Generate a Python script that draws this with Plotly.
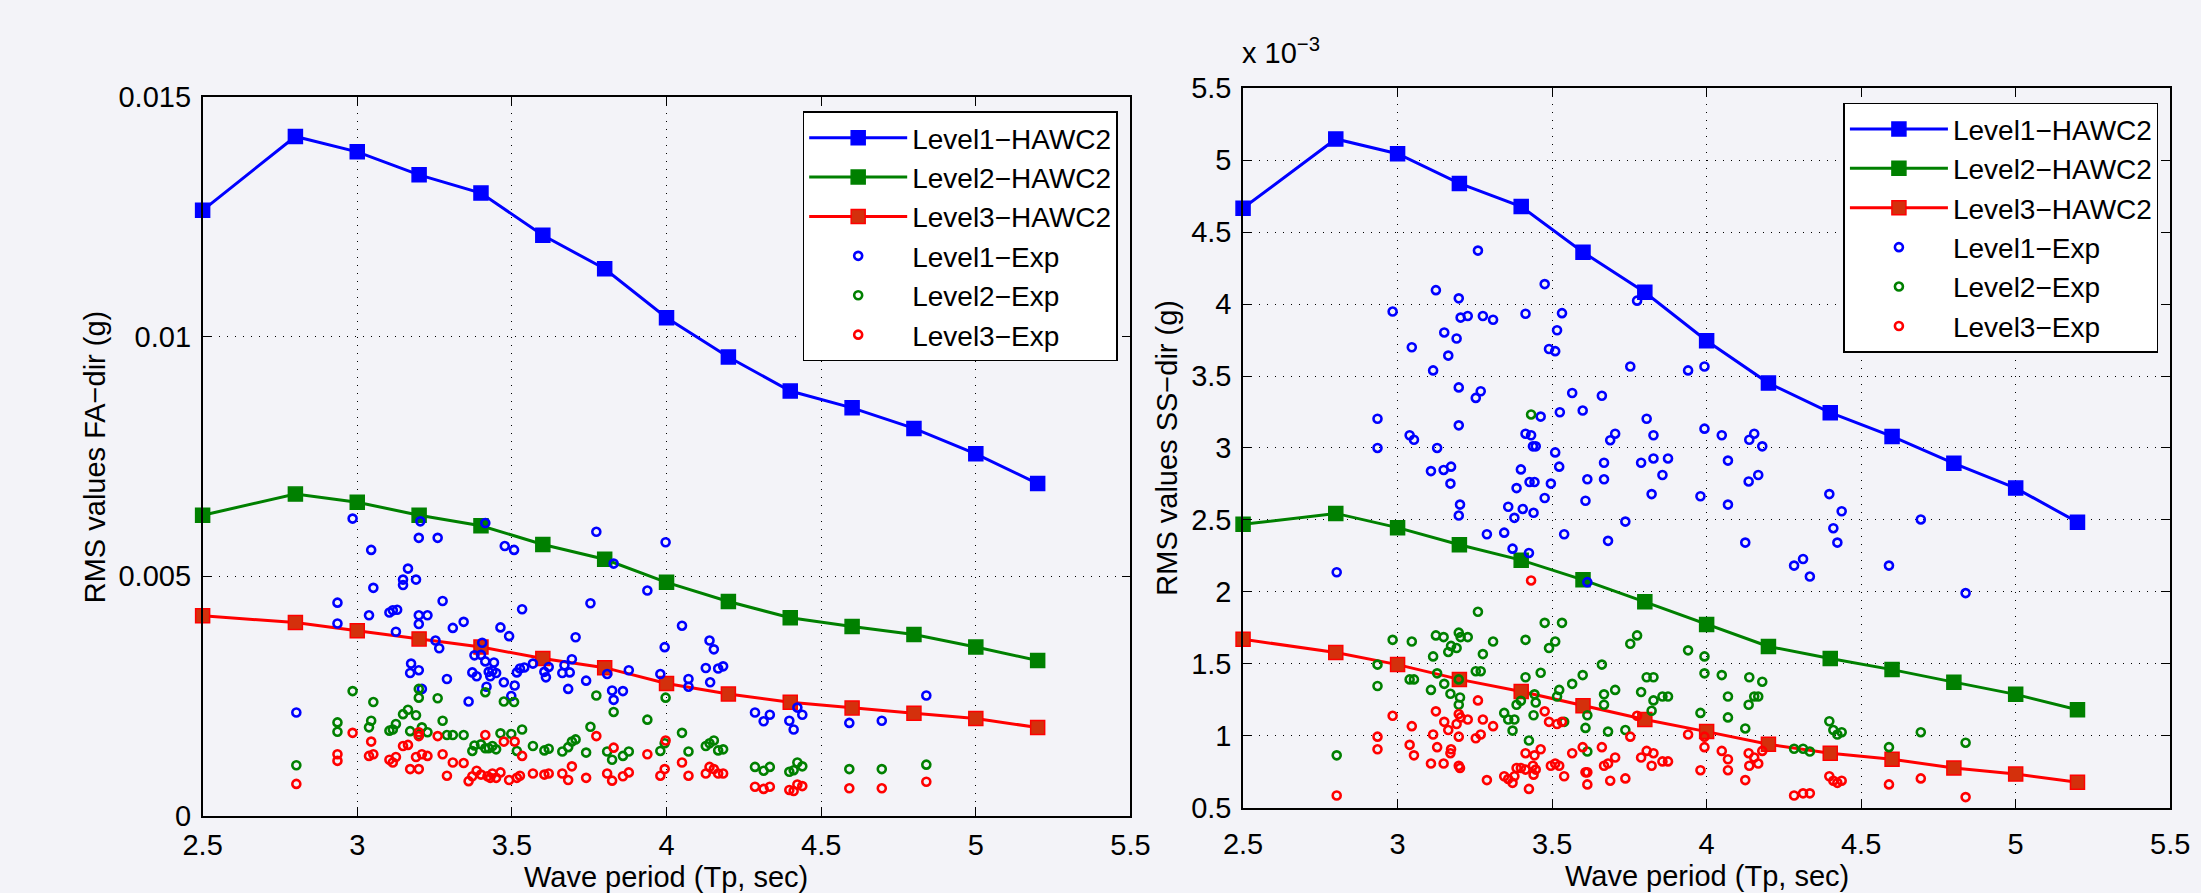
import plotly.graph_objects as go

# ---------------- data ----------------
T_hawc = [2.5, 2.8, 3.0, 3.2, 3.4, 3.6, 3.8, 4.0, 4.2, 4.4, 4.6, 4.8, 5.0, 5.2]

# FA direction (g)
fa_l1_hawc = [0.01263, 0.01417, 0.01385, 0.01337, 0.01299, 0.01211, 0.01141, 0.01039,
              0.00957, 0.00886, 0.00851, 0.00808, 0.00755, 0.00693]
fa_l2_hawc = [0.00627, 0.00671, 0.00654, 0.00627, 0.00605, 0.00566, 0.00535, 0.00487,
              0.00447, 0.00413, 0.00395, 0.00378, 0.00352, 0.00324]
fa_l3_hawc = [0.00417, 0.00403, 0.00386, 0.00369, 0.00352, 0.00328, 0.00309, 0.00276,
              0.00254, 0.00237, 0.00225, 0.00214, 0.00203, 0.00184]

# SS direction (x 10^-3 g)
ss_l1_hawc = [4.667, 5.148, 5.045, 4.839, 4.678, 4.361, 4.082, 3.745,
              3.451, 3.245, 3.080, 2.893, 2.721, 2.484]
ss_l2_hawc = [2.469, 2.545, 2.446, 2.327, 2.220, 2.083, 1.930, 1.773,
              1.620, 1.536, 1.459, 1.372, 1.287, 1.180]
ss_l3_hawc = [1.670, 1.578, 1.494, 1.391, 1.307, 1.207, 1.112, 1.028,
              0.940, 0.878, 0.836, 0.775, 0.733, 0.676]

# Experimental FA (Tp, x 10^-3 g)
fa_l1_exp_t = [2.803, 2.936, 2.936, 2.985, 3.038, 3.045, 3.052, 3.104, 3.115, 3.125, 3.129, 3.148, 3.148,
               3.164, 3.171, 3.174, 3.190, 3.199, 3.199, 3.199, 3.199, 3.204, 3.209, 3.227, 3.253, 3.260,
               3.265, 3.276, 3.290, 3.309, 3.344, 3.360, 3.372, 3.379, 3.386, 3.400, 3.404, 3.414, 3.414,
               3.418, 3.425, 3.430, 3.437, 3.442, 3.449, 3.463, 3.474, 3.477, 3.491, 3.498, 3.507, 3.509,
               3.516, 3.526, 3.533, 3.540, 3.568, 3.605, 3.610, 3.619, 3.663, 3.670, 3.682, 3.687, 3.694,
               3.706, 3.740, 3.754, 3.773, 3.808, 3.824, 3.829, 3.829, 3.859, 3.878, 3.938, 3.980, 3.994,
               3.997, 4.050, 4.071, 4.071, 4.127, 4.139, 4.141, 4.153, 4.167, 4.183, 4.286, 4.314, 4.334,
               4.397, 4.411, 4.423, 4.439, 4.591, 4.696, 4.840]
fa_l1_exp = [2.154, 4.446, 4.011, 6.199, 4.182, 5.546, 4.755, 4.240, 4.286, 3.839, 4.297, 4.813, 4.927,
             5.156, 2.979, 3.174, 4.927, 5.798, 4.182, 3.999, 3.037, 6.142, 2.647, 4.182, 3.655, 5.798,
             3.495, 4.480, 2.853, 3.919, 4.045, 2.383, 2.991, 3.346, 2.911, 3.357, 3.609, 3.220, 6.107,
             2.693, 3.002, 2.911, 3.025, 3.197, 2.979, 3.930, 2.784, 5.626, 3.747, 2.498, 5.546, 2.716,
             2.991, 3.071, 4.308, 3.094, 3.174, 3.002, 2.888, 3.105, 2.979, 3.140, 2.647, 2.991, 3.266,
             3.724, 2.819, 4.434, 5.924, 2.956, 2.613, 5.260, 2.418, 2.601, 3.037, 4.698, 2.956, 3.518,
             5.706, 3.965, 2.853, 2.693, 3.082, 3.655, 2.784, 3.472, 3.071, 3.117, 2.154, 1.971, 2.108,
             1.982, 1.799, 2.257, 2.108, 1.937, 1.982, 2.509]

fa_l2_exp_t = [2.803, 2.936, 2.936, 2.985, 3.038, 3.052, 3.045, 3.104, 3.115, 3.125, 3.148, 3.164, 3.171,
               3.190, 3.199, 3.199, 3.199, 3.209, 3.227, 3.260, 3.276, 3.290, 3.309, 3.344, 3.372, 3.379,
               3.400, 3.414, 3.414, 3.425, 3.437, 3.449, 3.463, 3.474, 3.498, 3.507, 3.516, 3.533, 3.568,
               3.605, 3.619, 3.663, 3.682, 3.694, 3.706, 3.740, 3.754, 3.773, 3.808, 3.824, 3.829, 3.859,
               3.878, 3.938, 3.980, 3.994, 3.997, 4.050, 4.071, 4.127, 4.139, 4.153, 4.167, 4.183, 4.286,
               4.314, 4.334, 4.397, 4.411, 4.423, 4.439, 4.591, 4.696, 4.840]
fa_l2_exp = [1.054, 1.948, 1.753, 2.601, 1.845, 2.372, 1.982, 1.776, 1.799, 1.914, 2.120, 2.212, 1.765,
             2.097, 2.647, 2.464, 1.684, 1.845, 1.742, 2.452, 1.982, 1.684, 1.684, 1.684, 1.352, 1.467,
             1.490, 1.409, 2.578, 1.409, 1.455, 1.386, 1.719, 2.383, 1.707, 2.372, 1.352, 1.799, 1.455,
             1.364, 1.398, 1.341, 1.432, 1.547, 1.593, 1.318, 1.856, 2.509, 1.341, 1.169, 2.166, 1.249,
             1.341, 2.005, 1.352, 1.513, 2.464, 1.730, 1.341, 1.455, 1.513, 1.570, 1.364, 1.386, 1.020,
             0.940, 1.020, 0.917, 0.951, 1.112, 1.031, 0.974, 0.974, 1.066]

fa_l3_exp_t = [2.803, 2.936, 2.936, 2.985, 3.038, 3.045, 3.052, 3.104, 3.115, 3.125, 3.148, 3.164, 3.171,
               3.190, 3.199, 3.199, 3.199, 3.209, 3.227, 3.260, 3.276, 3.290, 3.309, 3.344, 3.360, 3.372,
               3.386, 3.400, 3.414, 3.421, 3.430, 3.437, 3.449, 3.463, 3.474, 3.491, 3.509, 3.516, 3.526,
               3.533, 3.568, 3.605, 3.619, 3.663, 3.682, 3.694, 3.740, 3.773, 3.808, 3.824, 3.829, 3.859,
               3.878, 3.938, 3.980, 3.994, 3.997, 4.050, 4.071, 4.127, 4.139, 4.153, 4.167, 4.183, 4.286,
               4.314, 4.334, 4.397, 4.411, 4.423, 4.439, 4.591, 4.696, 4.840]
fa_l3_exp = [0.665, 1.283, 1.146, 1.730, 1.249, 1.547, 1.283, 1.169, 1.112, 1.226, 1.455, 1.478, 0.974,
             1.226, 1.742, 1.662, 0.974, 1.283, 1.249, 1.662, 1.283, 0.836, 1.112, 1.100, 0.722, 0.825,
             0.940, 0.859, 1.684, 0.825, 0.791, 0.882, 0.791, 0.905, 1.547, 0.745, 1.547, 0.791, 0.836,
             1.249, 0.882, 0.859, 0.882, 0.882, 0.745, 1.031, 0.791, 1.662, 0.882, 0.733, 1.421, 0.825,
             0.905, 1.283, 0.836, 0.974, 1.570, 1.112, 0.836, 0.882, 1.020, 0.974, 0.882, 0.882, 0.607,
             0.561, 0.607, 0.539, 0.516, 0.653, 0.619, 0.573, 0.573, 0.710]

# Experimental SS (Tp, x 10^-3 g)
ss_l1_exp_t = [2.803, 2.935, 2.935, 2.984, 3.039, 3.053, 3.046, 3.108, 3.115, 3.124, 3.128, 3.149, 3.151,
               3.164, 3.171, 3.173, 3.191, 3.198, 3.198, 3.198, 3.202, 3.198, 3.204, 3.227, 3.253, 3.260,
               3.269, 3.276, 3.289, 3.309, 3.345, 3.358, 3.372, 3.378, 3.385, 3.399, 3.405, 3.414, 3.414,
               3.425, 3.427, 3.432, 3.438, 3.440, 3.443, 3.447, 3.463, 3.476, 3.476, 3.490, 3.496, 3.510,
               3.510, 3.516, 3.523, 3.525, 3.532, 3.539, 3.565, 3.599, 3.608, 3.614, 3.614, 3.661, 3.668,
               3.668, 3.681, 3.688, 3.704, 3.737, 3.753, 3.775, 3.788, 3.806, 3.822, 3.828, 3.828, 3.857,
               3.875, 3.940, 3.980, 3.993, 3.993, 4.049, 4.069, 4.069, 4.125, 4.136, 4.138, 4.154, 4.167,
               4.180, 4.283, 4.312, 4.334, 4.397, 4.410, 4.423, 4.437, 4.590, 4.693, 4.838]
ss_l1_exp = [2.136, 3.203, 3.000, 3.948, 3.088, 3.057, 3.700, 2.839, 3.539, 4.097, 3.000, 2.847, 3.803,
             3.642, 2.752, 2.870, 3.761, 4.040, 3.421, 3.157, 2.606, 2.530, 3.906, 3.917, 3.348, 4.372,
             3.394, 3.917, 2.400, 3.891, 2.411, 2.591, 2.300, 2.514, 2.721, 2.851, 2.576, 3.933, 3.099,
             2.270, 2.763, 3.088, 3.011, 2.549, 2.763, 3.011, 3.218, 4.139, 2.652, 3.688, 2.752, 3.673,
             2.969, 3.818, 2.870, 3.248, 3.937, 2.400, 3.382, 3.260, 2.633, 2.782, 2.067, 3.363, 2.897,
             2.782, 2.354, 3.054, 3.099, 2.488, 3.566, 4.024, 2.897, 3.203, 2.679, 3.088, 2.927, 2.812,
             2.927, 3.539, 2.664, 3.566, 3.134, 3.088, 2.912, 2.606, 2.342, 2.767, 3.057, 3.099, 2.812,
             3.011, 2.182, 2.228, 2.106, 2.679, 2.442, 2.342, 2.560, 2.182, 2.503, 1.991]

ss_l2_exp_t = [2.803, 2.935, 2.935, 2.984, 3.039, 3.053, 3.046, 3.108, 3.115, 3.124, 3.128, 3.149, 3.151,
               3.164, 3.171, 3.173, 3.191, 3.198, 3.198, 3.198, 3.202, 3.204, 3.227, 3.253, 3.260, 3.269,
               3.276, 3.309, 3.345, 3.358, 3.372, 3.378, 3.385, 3.399, 3.414, 3.414, 3.425, 3.432, 3.440,
               3.443, 3.447, 3.463, 3.476, 3.490, 3.510, 3.516, 3.523, 3.532, 3.539, 3.565, 3.599, 3.608,
               3.614, 3.614, 3.661, 3.668, 3.668, 3.681, 3.704, 3.737, 3.753, 3.775, 3.788, 3.806, 3.822,
               3.828, 3.828, 3.857, 3.875, 3.940, 3.980, 3.993, 3.993, 4.049, 4.069, 4.069, 4.125, 4.136,
               4.138, 4.154, 4.167, 4.180, 4.283, 4.312, 4.334, 4.397, 4.410, 4.423, 4.437, 4.590, 4.693,
               4.838]
ss_l2_exp = [0.863, 1.494, 1.345, 1.666, 1.391, 1.391, 1.654, 1.318, 1.551, 1.697, 1.433, 1.685, 1.360,
             1.582, 1.291, 1.624, 1.609, 1.716, 1.391, 1.215, 1.265, 1.685, 1.685, 1.448, 1.861, 1.448,
             1.567, 1.654, 1.158, 1.112, 1.035, 1.112, 1.215, 1.242, 1.406, 1.666, 0.966, 3.233, 1.142,
             1.287, 1.230, 1.437, 1.784, 1.609, 1.654, 1.272, 1.318, 1.784, 1.096, 1.360, 1.421, 1.054,
             1.142, 0.890, 1.494, 1.287, 1.215, 1.028, 1.318, 1.039, 1.639, 1.697, 1.303, 1.406, 1.173,
             1.406, 1.245, 1.272, 1.272, 1.593, 1.158, 1.433, 1.551, 1.421, 1.272, 1.127, 1.050, 1.215,
             1.406, 1.272, 1.272, 1.375, 0.909, 0.909, 0.890, 1.100, 1.039, 1.008, 1.024, 0.920, 1.024,
             0.951]

ss_l3_exp_t = [2.803, 2.935, 2.935, 2.984, 3.039, 3.053, 3.046, 3.108, 3.115, 3.124, 3.128, 3.149, 3.151,
               3.164, 3.171, 3.173, 3.191, 3.198, 3.198, 3.198, 3.202, 3.204, 3.227, 3.253, 3.260, 3.269,
               3.276, 3.289, 3.309, 3.345, 3.358, 3.372, 3.378, 3.385, 3.399, 3.414, 3.414, 3.425, 3.432,
               3.438, 3.440, 3.443, 3.447, 3.463, 3.476, 3.490, 3.496, 3.510, 3.516, 3.523, 3.532, 3.539,
               3.565, 3.599, 3.608, 3.614, 3.614, 3.661, 3.668, 3.681, 3.688, 3.704, 3.737, 3.753, 3.775,
               3.788, 3.806, 3.822, 3.828, 3.857, 3.875, 3.940, 3.980, 3.993, 3.993, 4.049, 4.069, 4.069,
               4.125, 4.136, 4.138, 4.154, 4.167, 4.180, 4.283, 4.312, 4.334, 4.397, 4.410, 4.423, 4.437,
               4.590, 4.693, 4.838]
ss_l3_exp = [0.584, 0.993, 0.905, 1.138, 0.936, 0.863, 1.066, 0.806, 1.008, 1.169, 0.920, 0.806, 1.096,
             1.039, 0.878, 0.905, 1.081, 1.150, 0.993, 0.791, 0.775, 1.127, 1.112, 0.982, 1.245, 1.008,
             1.112, 0.691, 1.066, 0.718, 0.699, 0.672, 0.718, 0.775, 0.775, 0.878, 0.764, 0.630, 2.079,
             0.791, 0.729, 0.863, 0.764, 0.905, 1.169, 1.096, 0.791, 0.806, 1.081, 0.791, 1.096, 0.718,
             0.878, 0.920, 0.745, 0.745, 0.661, 0.920, 0.791, 0.806, 0.687, 0.848, 0.703, 0.993, 1.138,
             0.848, 0.894, 0.791, 0.878, 0.821, 0.821, 1.008, 0.760, 0.920, 0.993, 0.894, 0.836, 0.760,
             0.691, 0.878, 0.791, 0.848, 0.806, 0.894, 0.584, 0.599, 0.599, 0.718, 0.687, 0.672, 0.687,
             0.661, 0.703, 0.573]

levels = ["Level1", "Level2", "Level3"]
colors = ["#0000ff", "#008000", "#ff0000"]
sq_fill = ["#0000ff", "#008000", "#d4300c"]

# ---------------- figure ----------------
W, H = 2201, 893
FONT = "Liberation Sans, Arial, Helvetica, sans-serif"
FS = 29
LFS = 28
BG = "#f3f3f8"

fig = go.Figure()

panels = [
    dict(xa="x", ya="y", leg="legend", hawc=[fa_l1_hawc, fa_l2_hawc, fa_l3_hawc],
         exp_t=[fa_l1_exp_t, fa_l2_exp_t, fa_l3_exp_t],
         exp=[[v * 1e-3 for v in fa_l1_exp], [v * 1e-3 for v in fa_l2_exp], [v * 1e-3 for v in fa_l3_exp]]),
    dict(xa="x2", ya="y2", leg="legend2", hawc=[ss_l1_hawc, ss_l2_hawc, ss_l3_hawc],
         exp_t=[ss_l1_exp_t, ss_l2_exp_t, ss_l3_exp_t],
         exp=[ss_l1_exp, ss_l2_exp, ss_l3_exp]),
]

for p in panels:
    for i in range(3):
        fig.add_trace(go.Scatter(
            x=T_hawc, y=p["hawc"][i], mode="lines+markers",
            name=f"{levels[i]}\u2212HAWC2",
            line=dict(color=colors[i], width=3),
            marker=dict(symbol="square", size=14, color=sq_fill[i],
                        line=dict(color=colors[i], width=1.5)),
            xaxis=p["xa"], yaxis=p["ya"], legend=p["leg"], cliponaxis=False,
        ))
    for i in range(3):
        fig.add_trace(go.Scatter(
            x=p["exp_t"][i], y=p["exp"][i], mode="markers",
            name=f"{levels[i]}\u2212Exp",
            marker=dict(symbol="circle-open", size=8, color=colors[i],
                        line=dict(color=colors[i], width=2.6)),
            xaxis=p["xa"], yaxis=p["ya"], legend=p["leg"], cliponaxis=False,
        ))

def px_x(v):
    return v / W

def px_y(v):
    return (H - v) / H

axis_common = dict(
    showline=True, linecolor="black", linewidth=1.5, mirror="ticks",
    ticks="inside", ticklen=9, tickwidth=1, tickcolor="black",
    showgrid=True, gridcolor="black", gridwidth=1, griddash="1px,7px",
    zeroline=False, tickfont=dict(family=FONT, size=FS, color="black"),
)
xtickvals = [2.5, 3, 3.5, 4, 4.5, 5, 5.5]
xticktext = ["2.5", "3", "3.5", "4", "4.5", "5", "5.5"]

fig.update_layout(
    width=W, height=H, margin=dict(l=0, r=0, t=0, b=0),
    paper_bgcolor=BG, plot_bgcolor=BG, font=dict(family=FONT, color="black"),
    xaxis=dict(domain=[px_x(186), px_x(1131)], range=[2.5, 5.5], anchor="y",
               tickvals=xtickvals, ticktext=xticktext, ticklabelstandoff=3, **axis_common),
    yaxis=dict(domain=[px_y(829.5), px_y(83.7)], range=[0, 0.015], tickvals=[0, 0.005, 0.01, 0.015],
               ticktext=["0", "0.005", "0.01", "0.015"], anchor="x", ticklabelstandoff=4, **axis_common),
    xaxis2=dict(domain=[px_x(1245.7), px_x(2190)], range=[2.5, 5.5], anchor="y2",
                tickvals=xtickvals, ticktext=xticktext, ticklabelstandoff=10, **axis_common),
    yaxis2=dict(domain=[px_y(821), px_y(75)], range=[0.5, 5.5],
                tickvals=[0.5, 1, 1.5, 2, 2.5, 3, 3.5, 4, 4.5, 5, 5.5],
                ticktext=["0.5", "1", "1.5", "2", "2.5", "3", "3.5", "4", "4.5", "5", "5.5"],
                anchor="x2", ticklabelstandoff=4, **axis_common),
    legend=dict(x=px_x(1118), y=px_y(99), xanchor="right", yanchor="top",
                bgcolor="white", bordercolor="black", borderwidth=1.5,
                font=dict(family=FONT, size=LFS, color="black"), itemwidth=98,
                tracegroupgap=0),
    legend2=dict(x=px_x(2178), y=px_y(90), xanchor="right", yanchor="top",
                 bgcolor="white", bordercolor="black", borderwidth=1.5,
                 font=dict(family=FONT, size=LFS, color="black"), itemwidth=98,
                 tracegroupgap=0),
    showlegend=True,
)

ann_font = dict(family=FONT, size=FS, color="black")
fig.add_annotation(text="RMS values FA\u2212dir (g)", textangle=-90, x=px_x(76), y=px_y(457),
                   xanchor="center", yanchor="middle",
                   xref="paper", yref="paper", showarrow=False, font=ann_font)
fig.add_annotation(text="RMS values SS\u2212dir (g)", textangle=-90, x=px_x(1168), y=px_y(448),
                   xanchor="center", yanchor="middle",
                   xref="paper", yref="paper", showarrow=False, font=ann_font)
fig.add_annotation(text="Wave period (Tp, sec)", x=px_x(658), y=px_y(874), xanchor="center",
                   yanchor="top", xref="paper", yref="paper", showarrow=False, font=ann_font)
fig.add_annotation(text="Wave period (Tp, sec)", x=px_x(1718), y=px_y(873), xanchor="center",
                   yanchor="top", xref="paper", yref="paper", showarrow=False, font=ann_font)
fig.add_annotation(text="x 10<sup>\u22123</sup>", x=px_x(1243), y=px_y(57), xanchor="left",
                   yanchor="bottom", xref="paper", yref="paper", showarrow=False, font=ann_font)

fig.write_html("out.html")
